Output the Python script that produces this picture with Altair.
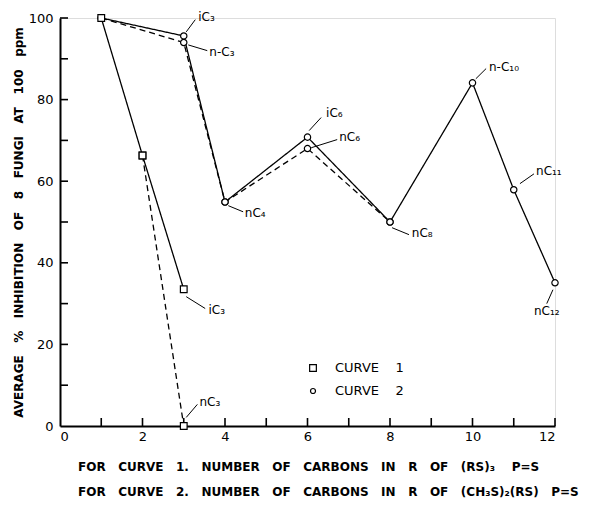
import altair as alt
import pandas as pd

# ---- data ----
# Curve 1: (RS)3 P=S  (squares)
c1_solid_x = [1, 2, 3]
c1_solid_y = [100, 66.3, 33.5]
c1_dash_x = [2, 3]
c1_dash_y = [66.3, 0]
# Curve 2: (CH3S)2(RS) P=S  (circles)
c2_solid_x = [1, 3, 4, 6, 8, 10, 11, 12]
c2_solid_y = [100, 95.6, 54.9, 70.8, 50.0, 84.1, 57.9, 35.1]
c2_dash_x = [1, 3, 4, 6, 8]
c2_dash_y = [100, 94.0, 54.9, 68.0, 50.0]

# point annotations (label, label anchor, leader line)
ann_text = ["iC₃", "n-C₃", "nC₄", "iC₆", "nC₆", "nC₈", "n-C₁₀", "nC₁₁", "nC₁₂", "iC₃", "nC₃"]
ann_x = [3.35, 3.62, 4.48, 6.45, 6.77, 8.53, 10.40, 11.54, 11.49, 3.60, 3.38]
ann_y = [100.2, 91.7, 52.3, 76.8, 70.9, 47.2, 88.1, 62.6, 28.1, 28.5, 5.8]
lead_x1 = [3.28, 3.57, 4.44, 6.33, 6.72, 8.46, 10.33, 11.49, 11.80, 3.52, 3.33]
lead_y1 = [99.6, 92.0, 52.5, 75.6, 70.2, 46.9, 87.6, 61.8, 30.0, 28.8, 5.3]
lead_x2 = [3.06, 3.11, 4.08, 6.04, 6.09, 8.05, 10.08, 11.15, 11.95, 3.06, 3.06]
lead_y2 = [96.6, 93.4, 54.0, 72.4, 68.2, 48.6, 85.1, 59.4, 33.4, 31.7, 2.1]

x_labels = [0, 2, 4, 6, 8, 10, 12]
y_labels = [0, 20, 40, 60, 80, 100]
x_minor = list(range(1, 13))
y_minor = list(range(10, 101, 10))

NB = "\u00a0"
GAP = NB * 3
curve_names = ["CURVE" + NB * 4 + "1", "CURVE" + NB * 4 + "2"]
y_title = GAP.join(["AVERAGE", "%", "INHIBITION", "OF", "8", "FUNGI", "AT", "100", "ppm"])
x_title = [GAP.join(["FOR", "CURVE", "1.", "NUMBER", "OF", "CARBONS", "IN", "R", "OF", "(RS)₃", NB + "P=S"]),
           GAP.join(["FOR", "CURVE", "2.", "NUMBER", "OF", "CARBONS", "IN", "R", "OF", "(CH₃S)₂(RS)", "P=S"])]

FONT = "DejaVu Sans"

# ---- tables ----
rows = []
for name, xs, ys, style in [("c1s", c1_solid_x, c1_solid_y, "solid"),
                            ("c1d", c1_dash_x, c1_dash_y, "dashed"),
                            ("c2s", c2_solid_x, c2_solid_y, "solid"),
                            ("c2d", c2_dash_x, c2_dash_y, "dashed")]:
    for i, (a, b) in enumerate(zip(xs, ys)):
        rows.append({"line": name, "style": style, "x": a, "y": b, "i": i})
lines_df = pd.DataFrame(rows)

c2_pts = pd.DataFrame({"x": c2_solid_x + c2_dash_x, "y": c2_solid_y + c2_dash_y})
c1_pts = pd.DataFrame({"x": c1_solid_x + c1_dash_x, "y": c1_solid_y + c1_dash_y})

ann_df = pd.DataFrame({"t": ann_text, "x": ann_x, "y": ann_y,
                       "x1": lead_x1, "y1": lead_y1, "x2": lead_x2, "y2": lead_y2})

xscale = alt.Scale(domain=[0, 12], nice=False, zero=False)
yscale = alt.Scale(domain=[0, 100], nice=False)

xaxis = alt.Axis(values=x_labels, ticks=False, grid=False, domainWidth=2, domainColor="black",
                 labelFont=FONT, labelFontSize=13, labelColor="black", labelPadding=4,
                 title=x_title, titleFont=FONT, titleFontSize=12, titleFontWeight="bold",
                 titleColor="black", titleAlign="left", titleAnchor="start", titleX=17.5,
                 titleY=35, titleBaseline="top", titleLineHeight=25)
yaxis = alt.Axis(values=y_labels, ticks=False, grid=False, domainWidth=2, domainColor="black",
                 labelFont=FONT, labelFontSize=13, labelColor="black", labelPadding=7,
                 title=y_title, titleFont=FONT, titleFontSize=12, titleFontWeight="bold",
                 titleColor="black", titleX=-42, titleY=204, titleBaseline="middle",
                 titleAlign="center", titleAngle=270)

lines = alt.Chart(lines_df).mark_line(color="black", strokeWidth=1.3).encode(
    x=alt.X("x:Q", scale=xscale, axis=xaxis),
    y=alt.Y("y:Q", scale=yscale, axis=yaxis),
    detail="line:N",
    order="i:Q",
    strokeDash=alt.StrokeDash("style:N", scale=alt.Scale(domain=["solid", "dashed"],
                                                          range=[[1, 0], [6, 4]]), legend=None),
)

pt_style = dict(filled=True, fill="white", stroke="black", strokeWidth=1.2, opacity=1)
circles = alt.Chart(c2_pts).mark_point(shape="circle", size=40, **pt_style).encode(
    x=alt.X("x:Q", scale=xscale), y=alt.Y("y:Q", scale=yscale))
squares = alt.Chart(c1_pts).mark_point(shape="square", size=45, **pt_style).encode(
    x=alt.X("x:Q", scale=xscale), y=alt.Y("y:Q", scale=yscale))

leaders = alt.Chart(ann_df).mark_rule(color="black", strokeWidth=1).encode(
    x="x1:Q", y="y1:Q", x2="x2:Q", y2="y2:Q")

labels = alt.Chart(ann_df).mark_text(font=FONT, fontSize=12, align="left", baseline="middle",
                                     color="black").encode(
    x="x:Q", y="y:Q", text="t:N")

# inward ticks along both axes
xt = alt.Chart(pd.DataFrame({"x": x_minor})).mark_rule(color="black", strokeWidth=1.6).encode(
    x="x:Q", y=alt.value(408), y2=alt.value(400))
yt = alt.Chart(pd.DataFrame({"y": y_minor})).mark_rule(color="black", strokeWidth=1.6).encode(
    y="y:Q", x=alt.value(0), x2=alt.value(8))

# key (legend) box
key_sq = alt.Chart(pd.DataFrame({"k": [curve_names[0]]})).mark_point(
    shape="square", size=45, **pt_style).encode(x=alt.value(253), y=alt.value(350))
key_ci = alt.Chart(pd.DataFrame({"k": [curve_names[1]]})).mark_point(
    shape="circle", size=25, **pt_style).encode(x=alt.value(253), y=alt.value(373))
key_t1 = alt.Chart(pd.DataFrame({"k": [curve_names[0]]})).mark_text(
    font=FONT, fontSize=13, align="left", baseline="middle", color="black").encode(
    x=alt.value(275), y=alt.value(350), text="k:N")
key_t2 = alt.Chart(pd.DataFrame({"k": [curve_names[1]]})).mark_text(
    font=FONT, fontSize=13, align="left", baseline="middle", color="black").encode(
    x=alt.value(275), y=alt.value(373), text="k:N")

chart = alt.layer(lines, leaders, labels, xt, yt, circles, squares,
                  key_sq, key_ci, key_t1, key_t2).properties(
    width=495, height=408,
    padding={"left": 52, "top": 10, "right": 28, "bottom": 72},
    autosize=alt.AutoSizeParams(type="none"),
).configure_view(stroke=None).configure(background="white")

chart.save("out.html", embed_options={"renderer": "svg", "actions": False})
